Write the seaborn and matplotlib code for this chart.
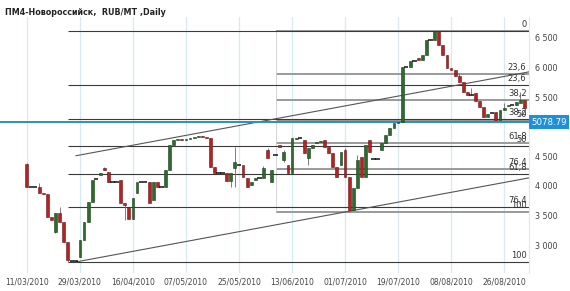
import numpy as np
import pandas as pd
import matplotlib
matplotlib.use("Agg")
import matplotlib.pyplot as plt
from matplotlib.transforms import blended_transform_factory
import seaborn as sns

title = "ПМ4-Новороссийск,  RUB/MT ,Daily"
date_labels = ["11/03/2010", "29/03/2010", "16/04/2010", "07/05/2010", "25/05/2010",
               "13/06/2010", "01/07/2010", "19/07/2010", "08/08/2010", "26/08/2010"]
date_tick_bars = [0, 13, 26, 39, 52, 65, 78, 91, 104, 117]
price_ticks = [3000, 3500, 4000, 4500, 5500, 6000, 6500]

opens = [4372, 3983, 3983, 3983, 3882, 3865, 3477, 3230, 3544, 3392,
         3054, 2734, 2734, 2801, 3088, 3392, 3730, 4118, 4186, 4304,
         4237, 4068, 4068, 4102, 3713, 3646, 3443, 3882, 4068, 4068,
         4068, 3764, 4068, 3983, 3983, 4271, 4693, 4777, 4794, 4777,
         4794, 4811, 4828, 4845, 4828, 4811, 4321, 4220, 4220, 4220,
         4085, 4304, 4355, 4355, 4135, 4017, 4102, 4135, 4135, 4608,
         4068, 4524, 4693, 4439, 4355, 4220, 4794, 4811, 4777, 4473,
         4642, 4727, 4743, 4777, 4659, 4558, 4321, 4355, 4608, 4152,
         3595, 3966, 4490, 4152, 4777, 4456, 4456, 4608, 4727, 4862,
         4980, 5064, 5081, 6010, 6010, 6112, 6162, 6128, 6213, 6466,
         6466, 6618, 6382, 6213, 5993, 5960, 5858, 5757, 5588, 5537,
         5571, 5436, 5335, 5166, 5233, 5250, 5115, 5284, 5351, 5368,
         5368, 5402, 5453]
closes = [3983, 3983, 3983, 3882, 3865, 3477, 3426, 3544, 3392, 3054,
          2750, 2734, 2734, 3088, 3392, 3730, 4102, 4118, 4220, 4271,
          4068, 4068, 4068, 3713, 3679, 3443, 3798, 4068, 4068, 4068,
          3713, 4068, 3983, 3983, 4271, 4693, 4777, 4794, 4777, 4794,
          4811, 4828, 4845, 4828, 4811, 4321, 4220, 4220, 4220, 4085,
          4220, 4406, 4355, 4152, 3983, 4068, 4135, 4135, 4304, 4473,
          4271, 4524, 4659, 4575, 4220, 4811, 4811, 4811, 4558, 4642,
          4693, 4743, 4760, 4659, 4558, 4321, 4152, 4575, 4152, 3595,
          3966, 4439, 4152, 4693, 4575, 4456, 4456, 4727, 4862, 4980,
          5064, 5081, 6010, 6010, 6112, 6112, 6128, 6213, 6466, 6466,
          6618, 6382, 6213, 5993, 5960, 5858, 5757, 5588, 5537, 5537,
          5436, 5335, 5166, 5216, 5233, 5115, 5284, 5318, 5368, 5368,
          5419, 5453, 5318]
highs = [4390, 3983, 3983, 4051, 3882, 3865, 3477, 3544, 3646, 3392,
         3054, 2734, 2734, 3088, 3392, 3730, 4102, 4118, 4220, 4321,
         4237, 4068, 4068, 4102, 3713, 3646, 3798, 4068, 4068, 4068,
         4068, 4068, 4068, 3983, 4271, 4693, 4777, 4794, 4794, 4794,
         4811, 4828, 4845, 4845, 4828, 4811, 4321, 4220, 4220, 4220,
         4220, 4659, 4355, 4355, 4135, 4068, 4135, 4135, 4330, 4642,
         4271, 4524, 4693, 4608, 4355, 4811, 4811, 4811, 4777, 4642,
         4693, 4743, 4760, 4777, 4659, 4558, 4321, 4575, 4642, 4152,
         3966, 4524, 4490, 4693, 4777, 4456, 4456, 4727, 4862, 4980,
         5064, 5081, 6010, 6010, 6112, 6112, 6162, 6213, 6466, 6466,
         6618, 6618, 6382, 6213, 5993, 5960, 5909, 5757, 5588, 5655,
         5571, 5436, 5335, 5216, 5233, 5250, 5284, 5400, 5368, 5368,
         5419, 5588, 5453]
lows = [3983, 3983, 3983, 3882, 3865, 3477, 3426, 3206, 3392, 3054,
        2717, 2734, 2717, 2801, 3088, 3392, 3730, 4118, 4186, 4271,
        4068, 4068, 4068, 3713, 3426, 3443, 3443, 3882, 4068, 4068,
        3713, 3764, 3983, 3983, 3983, 4271, 4693, 4777, 4777, 4777,
        4794, 4811, 4828, 4828, 4811, 4321, 4220, 4220, 4220, 4085,
        3983, 3983, 4355, 4152, 3983, 4017, 4102, 4135, 4135, 4473,
        4068, 4524, 4659, 4406, 4220, 4220, 4794, 4811, 4558, 4355,
        4642, 4727, 4743, 4659, 4558, 4321, 4152, 4355, 4152, 3561,
        3595, 3966, 4152, 4152, 4575, 4456, 4456, 4608, 4727, 4862,
        4980, 5064, 5081, 6010, 6010, 6112, 6128, 6128, 6213, 6466,
        6466, 6382, 6213, 5993, 5960, 5858, 5757, 5588, 5537, 5537,
        5436, 5335, 5166, 5166, 5233, 5115, 5115, 5284, 5351, 5368,
        5368, 5402, 5318]

fib_ratios = [0, 23.6, 38.2, 50, 61.8, 76.4, 100]
fib_labels = ["0", "23,6", "38,2", "50", "61,8", "76,4", "100"]
fibA_high, fibA_low, fibA_start = 6618, 2717, 10
fibB_high, fibB_low, fibB_start = 6618, 3561, 61

channel_bars = [12, 124]
channel_upper = [4510, 5938]
channel_lower = [2717, 4148]

last_price = 5078.79

df = pd.DataFrame({"bar": np.arange(len(opens)), "open": opens, "close": closes,
                   "high": highs, "low": lows})

sns.set_theme(style="white")
fig = plt.figure(figsize=(5.70, 2.91), dpi=100)
ax = fig.add_axes([0.0, 0.062, 0.928, 0.880])
ax.set_facecolor("white")

XMIN, XMAX = -6.6, 123.1
ax.set_xlim(XMIN, XMAX)
ax.set_ylim(2531, 6855)

# vertical grid
for b in date_tick_bars:
    ax.axvline(b, color="#d6ebf1", lw=0.9, zorder=0)

# fib sets
def draw_fib(high, low, start, color, lw, vline, skip_labels=()):
    rng = high - low
    for r, lab in zip(fib_ratios, fib_labels):
        v = high - r / 100.0 * rng
        ax.hlines(v, start, XMAX, color=color, lw=lw, zorder=1)
        if lab in skip_labels:
            continue
        ax.annotate(lab, xy=(XMAX - 0.6, v), xytext=(0, 1.5), textcoords="offset points",
                    ha="right", va="bottom", fontsize=6, color="#333333", zorder=6)
    if vline:
        ax.vlines(start, low, high, color="#d0d0d0", lw=0.6, zorder=1)

# set B's "0" coincides with set A's "0" line, label drawn once
draw_fib(fibB_high, fibB_low, fibB_start, "#9a9a9a", 1.4, True, skip_labels=("0",))
draw_fib(fibA_high, fibA_low, fibA_start, "#3a3a3a", 0.8, False)

# channel lines
sns.lineplot(x=channel_bars, y=channel_upper, ax=ax, color="#555555", lw=0.8, zorder=2)
sns.lineplot(x=channel_bars, y=channel_lower, ax=ax, color="#555555", lw=0.8, zorder=2)

# last price line
ax.axhline(last_price, color="#2f8fc0", lw=1.4, zorder=3, clip_on=False)

# candles
ax.vlines(df["bar"], df["low"], df["high"], color="#6a6a6a", lw=0.6, zorder=3)
body = (df["close"] - df["open"]).abs()
doji = body < 15
up = df["close"] > df["open"]
sel = ~doji & up
ax.bar(df["bar"][sel], body[sel], bottom=df[["open", "close"]].min(axis=1)[sel], width=0.7,
       color="#2b6b2b", edgecolor="#1a3f1a", lw=0.4, zorder=4)
sel = ~doji & ~up
ax.bar(df["bar"][sel], body[sel], bottom=df[["open", "close"]].min(axis=1)[sel], width=0.7,
       color="#b42222", edgecolor="#6a1414", lw=0.4, zorder=4)
ax.hlines(df["close"][doji], df["bar"][doji] - 0.55, df["bar"][doji] + 0.55,
          color="#111111", lw=1.1, zorder=4)

# axes styling
for s in ["left", "top", "bottom"]:
    ax.spines[s].set_visible(False)
ax.spines["right"].set_color("#d6ebf1")
ax.spines["right"].set_linewidth(0.8)

ax.set_xticks(date_tick_bars)
ax.set_xticklabels(date_labels, fontsize=5.5, color="#444444")
ax.tick_params(axis="x", length=0, pad=3)
ax.yaxis.tick_right()
ax.set_yticks(price_ticks)
ax.set_yticklabels([f"{v:,}".replace(",", " ") for v in price_ticks], fontsize=5.8, color="#444444")
ax.tick_params(axis="y", length=0, pad=4)
ax.grid(False)

# last price box
tr = blended_transform_factory(ax.transAxes, ax.transData)
ax.text(1.004, last_price, f"{last_price:.2f}", transform=tr, ha="left", va="center",
        fontsize=6.2, color="white", zorder=10,
        bbox=dict(boxstyle="square,pad=0.28", facecolor="#1f8fd8", edgecolor="none"))

fig.text(0.009, 0.958, title, fontsize=5.8, fontweight="bold", color="#222222", va="center", ha="left")

fig.savefig("out.png", dpi=100)
